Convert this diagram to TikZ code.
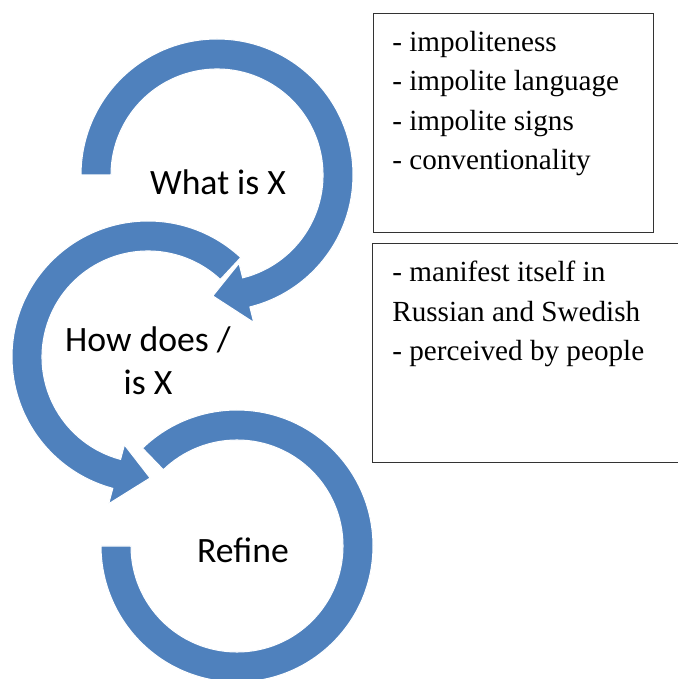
\documentclass[tikz,border=0pt]{standalone}
\usepackage{tikz}
\usepackage{xcolor}
\usepackage{fontspec}
\setmainfont{Liberation Serif}
\newfontfamily\stepfont{Carlito}
\usetikzlibrary{calc}
\definecolor{arcblue}{RGB}{79,129,189}

\begin{document}
\begin{tikzpicture}[x=0.02cm, y=0.02cm,
	arrowarc/.style={fill=arcblue, draw=white, line width=0.6pt},
	steptext/.style={font=\stepfont\fontsize{20.3}{24.4}\selectfont, align=center},
	listbox/.style={draw=black!80, line width=0.6pt, inner sep=0pt, anchor=north west, minimum height=4.38cm},
	listtext/.style={font=\fontsize{16.6}{22.4}\selectfont, align=left, inner sep=0pt, anchor=north west}]
	\useasboundingbox (0,0) rectangle (678,679);
	\clip (0,0) rectangle (678,679);
	\coordinate (c1) at (217,504);
	\coordinate (c2) at (148,322);
	\coordinate (c3) at (237,133);
	\path[arrowarc] ($(c3)+(134:136)$) arc[start angle=134, end angle=-180, radius=136] -- ($(c3)+(180:106)$) arc[start angle=-180, end angle=134, radius=106] -- cycle;
	\path[arrowarc] ($(c2)+(47:136)$) arc[start angle=47, end angle=255, radius=136] -- ($(c2)+(255:152)$) -- ($(c2)+(271:121)$) -- ($(c2)+(255:91)$) -- ($(c2)+(255:106)$) arc[start angle=255, end angle=47, radius=106] -- cycle;
	\path[arrowarc] ($(c1)+(180:136)$) arc[start angle=180, end angle=-76, radius=136] -- ($(c1)+(-76:152)$) -- ($(c1)+(-92:121)$) -- ($(c1)+(-76:91)$) -- ($(c1)+(-76:106)$) arc[start angle=-76, end angle=180, radius=106] -- cycle;
	
	\node[steptext] (what) at ($(c1)+(1,-7)$) {What is X};
	\node[steptext] (how) at ($(c2)+(0,-4)$) {How does /\\is X};
	\node[steptext] (refine) at ($(c3)+(6,-4)$) {Refine};
	
	\node[listbox, minimum width=5.6cm] (terms) at (373,666) {};
	\node[listbox, minimum width=6.56cm] (aspects) at (372,436) {};
	\node[listtext] (termlist) at ($(terms.north west)+(19,-18)$) {- impoliteness\\- impolite language\\- impolite signs\\- conventionality};
	\node[listtext] (aspectlist) at ($(aspects.north west)+(20,-18)$) {- manifest itself in\\Russian and Swedish\\- perceived by people};
\end{tikzpicture}
\end{document}
